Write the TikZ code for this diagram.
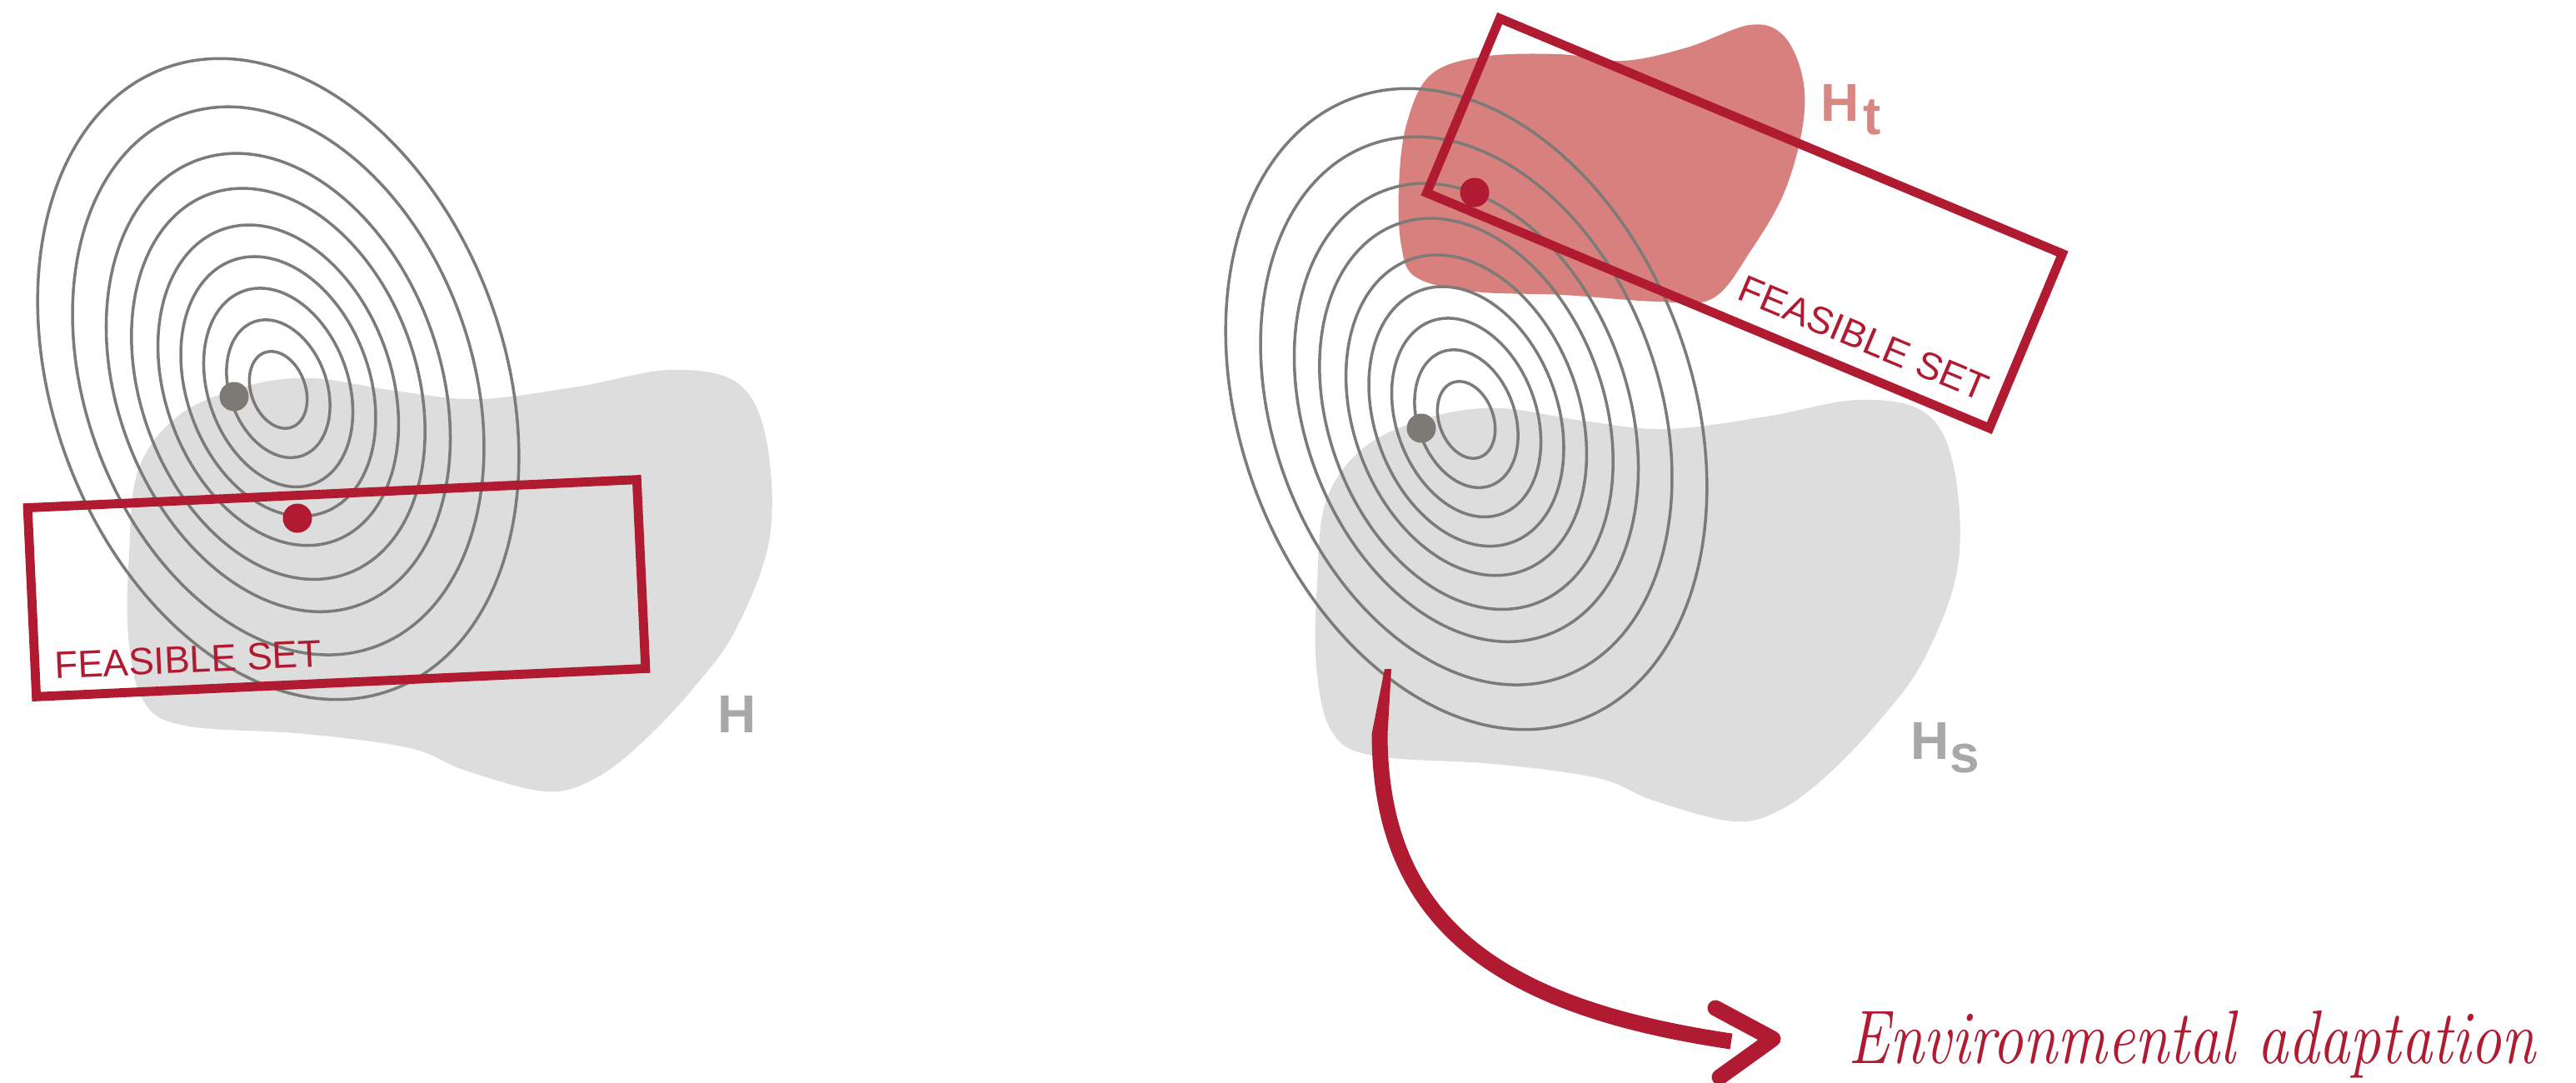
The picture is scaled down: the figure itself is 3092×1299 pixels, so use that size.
\documentclass[tikz,border=0pt]{standalone}
\usepackage{fontspec}
\usepackage{graphicx}
\newfontfamily\sansf{Liberation Sans}
\definecolor{feasred}{RGB}{176,27,50}
\definecolor{htblob}{RGB}{216,128,126}
\definecolor{htlabel}{RGB}{217,135,131}
\definecolor{blobgray}{RGB}{221,221,221}
\definecolor{contourgray}{RGB}{125,123,119}
\definecolor{dotgray}{RGB}{125,122,117}
\definecolor{labelgray}{RGB}{168,168,168}
\newcommand\blobshape{plot[smooth cycle, tension=0.6] coordinates {(1581,700) (1592,600) (1640,535) (1720,500) (1800,490) (1900,505) (2000,515) (2120,500) (2230,480) (2310,495) (2345,560) (2350,680) (2310,790) (2260,860) (2197,927) (2139,971) (2081,986) (1985,961) (1918,934) (1793,917) (1648,907) (1598,877) (1580,800)}}
\newcommand\contourset[2]{%
  \foreach \k in {0.12,0.215,0.31,0.405,0.5,0.61,0.715,0.855,1.0}{%
    \pgfmathsetmacro\cy{#2-14.8*(\k-0.12)}%
    \draw[contour, rotate around={20:(#1,\cy)}] (#1,\cy) ellipse [x radius=\k*2.71cm, y radius=\k*3.97cm];
  }}
\begin{document}
\begin{tikzpicture}[x=0.01cm,y=-0.01cm,
  contour/.style={draw=contourgray, line width=1.0pt},
  feas/.style={draw=feasred, line width=3.1pt},
  feastext/.style={text=feasred, font=\sansf\fontsize{13}{15}\selectfont, inner sep=0pt, transform shape},
  hlabel/.style={font=\sansf\bfseries\fontsize{18.2}{20}\selectfont, inner sep=0pt},
  dot/.style={circle, inner sep=0pt, minimum size=0.35cm},
  arrowstroke/.style={draw=feasred, line width=5.4pt, line cap=butt, line join=round}]
\useasboundingbox (0,0) rectangle (3092,1299);
% ---------- left panel ----------
\begin{scope}[shift={(-1426,-36)}]
  \fill[blobgray] \blobshape;
\end{scope}
\contourset{334}{468}
\begin{scope}[shift={(404,706)}, rotate=2.65]
  \draw[feas] (-366,-113.5) rectangle (366,113.5);
  \node[feastext, anchor=base west] (fsL) at (-343,93) {FEASIBLE SET};
\end{scope}
\node[dot, fill=dotgray] (gdotL) at (281,476) {};
\node[dot, fill=feasred] (rdotL) at (357,622) {};
\node[hlabel, text=labelgray, anchor=base west] (HL) at (861,879) {H};
% ---------- right panel ----------
\fill[blobgray] \blobshape;
\fill[htblob] plot[smooth cycle, tension=0.6] coordinates {(1679,225) (1688,150) (1717,90) (1780,68) (1871,65) (1948,73) (2025,57) (2100,30) (2140,42) (2163,90) (2164,150) (2142,230) (2102,300) (2056,358) (1990,362) (1876,354) (1770,350) (1700,333) (1682,295)};
\contourset{1760}{504}
\begin{scope}[shift={(2094,268)}, rotate=-22.7]
  \draw[feas] (-366,-113.5) rectangle (366,113.5);
  \node[feastext, anchor=base east] (fsR) at (346,88) {FEASIBLE SET};
\end{scope}
\node[dot, fill=dotgray] (gdotR) at (1706,514) {};
\node[dot, fill=feasred] (rdotR) at (1770,231) {};
\node[hlabel, text=labelgray, anchor=base west] (Hs) at (2293,911) {H};
\node[hlabel, text=labelgray, anchor=base west] (Hss) at (2340,927) {s};
\node[hlabel, text=htlabel, anchor=base west] (Ht) at (2185,145) {H};
\node[hlabel, text=htlabel, anchor=base west] (Htt) at (2236,161) {t};
% ---------- arrow and caption ----------
\node[anchor=base west, inner sep=0pt, text=feasred] (env) at (2218,1276)
  {\scalebox{0.816}[1]{\fontsize{25.9}{30}\selectfont\itshape Environmental adaptation}};
\coordinate (a0) at (1666,803);
\coordinate (a1) at (1656,880);
\coordinate (ae) at (2078,1250);
% tapered start of the brush stroke
\fill[feasred] (1662,803) -- (1670,803) -- (1665.5,881) -- (1646.5,881) -- cycle;
% main body of the stroke
\draw[arrowstroke] (a1) .. controls (1656,1110) and (1801,1209) .. (ae);
\coordinate (h1) at (2059,1210);
\coordinate (h2) at (2128,1247);
\coordinate (h3) at (2064,1293);
\draw[arrowstroke, line width=5.4pt, line cap=round] (h1) -- (h2) -- (h3);
\end{tikzpicture}
\end{document}
